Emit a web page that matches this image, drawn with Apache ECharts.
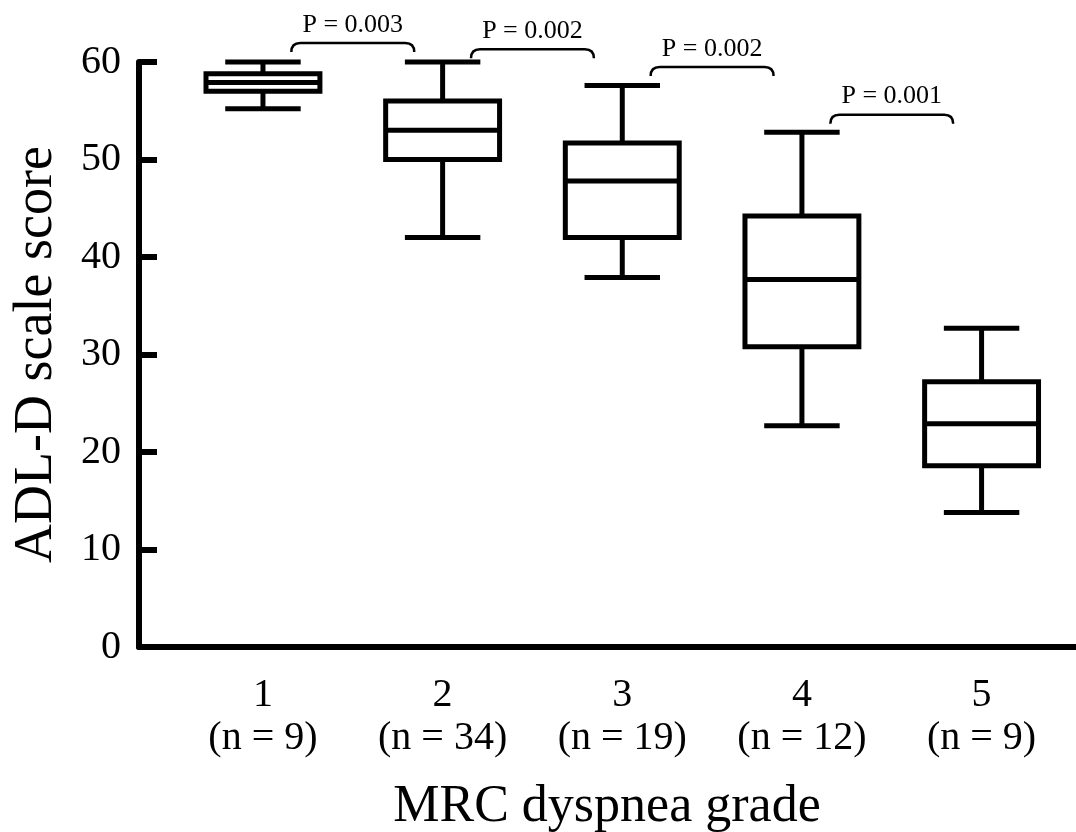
<!DOCTYPE html>
<html>
<head>
<meta charset="utf-8">
<script src="https://cdn.jsdelivr.net/npm/echarts@6/dist/echarts.min.js"></script>
<style>
  html, body { margin: 0; padding: 0; background: #fff; }
  #chart { width: 1076px; height: 832px; }
</style>
</head>
<body>
<div id="chart"></div>
<script>
// ---- data ----
const grades   = [1, 2, 3, 4, 5];
const nCounts  = [9, 34, 19, 12, 9];
const lows     = [55.2, 42.0, 37.9, 22.7, 13.8];
const q1s      = [57.0, 50.0, 42.0, 30.8, 18.6];
const medians  = [57.9, 53.0, 47.8, 37.7, 22.9];
const q3s      = [58.8, 56.0, 51.7, 44.2, 27.2];
const highs    = [60.0, 60.0, 57.6, 52.8, 32.7];
const yTicks   = [0, 10, 20, 30, 40, 50, 60];

// pairwise comparisons between adjacent grades
const pairFrom   = [1, 2, 3, 4];
const pairTo     = [2, 3, 4, 5];
const pLabels    = ['P = 0.003', 'P = 0.002', 'P = 0.002', 'P = 0.001'];
const bracketLvl = [61.95, 61.3, 59.5, 54.6];

// ---- build ----
const FONT = '"Liberation Serif", "DejaVu Serif", serif';
const BOX_HALF = 0.317;
const CAP_HALF = 0.21;
const BRACKET_HALF = 0.342;

const boxData = grades.map((g, i) => [g, lows[i], q1s[i], medians[i], q3s[i], highs[i]]);
const bracketData = pairFrom.map((a, i) => [(a + pairTo[i]) / 2, bracketLvl[i], pLabels[i]]);

const chart = echarts.init(document.getElementById('chart'), null, { renderer: 'canvas' });

chart.setOption({
  backgroundColor: '#ffffff',
  animation: false,
  grid: { left: 139, right: 1, top: 62, bottom: 185, containLabel: false, outerBoundsMode: 'none' },
  xAxis: {
    type: 'value',
    min: 0.31,
    max: 5.52,
    name: 'MRC dyspnea grade',
    nameLocation: 'middle',
    nameGap: 134,
    nameTextStyle: { fontFamily: FONT, fontSize: 52, color: '#000' },
    axisLine: { show: true, onZero: false, lineStyle: { color: '#000', width: 6 } },
    axisTick: { show: false },
    splitLine: { show: false },
    axisLabel: {
      customValues: grades,
      margin: 27,
      fontFamily: FONT,
      fontSize: 40,
      lineHeight: 43,
      color: '#000',
      formatter: function (v) {
        const i = grades.indexOf(Math.round(v));
        return grades[i] + '\n(n = ' + nCounts[i] + ')';
      }
    }
  },
  yAxis: {
    type: 'value',
    min: 0,
    max: 60,
    interval: 10,
    name: 'ADL-D scale score',
    nameLocation: 'middle',
    nameRotate: 90,
    nameGap: 75,
    nameTextStyle: { fontFamily: FONT, fontSize: 54, color: '#000' },
    axisLine: { show: true, lineStyle: { color: '#000', width: 6 } },
    axisTick: { show: true, inside: true, length: 18, lineStyle: { color: '#000', width: 6 } },
    splitLine: { show: false },
    axisLabel: {
      margin: 18,
      padding: [8, 0, 0, 0],
      fontFamily: FONT,
      fontSize: 40,
      color: '#000',
      formatter: function (v) { return yTicks.indexOf(v) >= 0 ? String(v) : ''; }
    }
  },
  series: [
    {
      type: 'custom',
      name: 'boxes',
      data: boxData,
      encode: { x: 0, y: [1, 2, 3, 4, 5] },
      renderItem: function (params, api) {
        const x = api.value(0);
        const pLow = api.coord([x, api.value(1)]);
        const pQ1 = api.coord([x, api.value(2)]);
        const pMed = api.coord([x, api.value(3)]);
        const pQ3 = api.coord([x, api.value(4)]);
        const pHigh = api.coord([x, api.value(5)]);
        const cx = pMed[0];
        const hb = api.size([BOX_HALF, 0])[0];
        const hc = api.size([CAP_HALF, 0])[0];
        const st = { stroke: '#000', lineWidth: 5, lineCap: 'butt' };
        return {
          type: 'group',
          children: [
            { type: 'line', shape: { x1: cx, y1: pLow[1], x2: cx, y2: pQ1[1] }, style: st },
            { type: 'line', shape: { x1: cx, y1: pQ3[1], x2: cx, y2: pHigh[1] }, style: st },
            { type: 'line', shape: { x1: cx - hc, y1: pLow[1], x2: cx + hc, y2: pLow[1] }, style: st },
            { type: 'line', shape: { x1: cx - hc, y1: pHigh[1], x2: cx + hc, y2: pHigh[1] }, style: st },
            { type: 'rect', shape: { x: cx - hb, y: pQ3[1], width: 2 * hb, height: pQ1[1] - pQ3[1] },
              style: { fill: '#fff', stroke: '#000', lineWidth: 5 } },
            { type: 'line', shape: { x1: cx - hb, y1: pMed[1], x2: cx + hb, y2: pMed[1] }, style: st }
          ]
        };
      }
    },
    {
      type: 'custom',
      name: 'brackets',
      data: bracketData,
      encode: { x: 0, y: 1 },
      renderItem: function (params, api) {
        const xc = api.value(0);
        const lvl = api.value(1);
        const label = bracketData[params.dataIndex][2];
        const pL = api.coord([xc - BRACKET_HALF, lvl]);
        const pR = api.coord([xc + BRACKET_HALF, lvl]);
        const y = pL[1];
        const d = 9;
        const path = 'M' + pL[0] + ' ' + (y + d) +
          ' Q' + pL[0] + ' ' + y + ' ' + (pL[0] + d) + ' ' + y +
          ' L' + (pR[0] - d) + ' ' + y +
          ' Q' + pR[0] + ' ' + y + ' ' + pR[0] + ' ' + (y + d);
        return {
          type: 'group',
          children: [
            { type: 'path', shape: { pathData: path },
              style: { fill: null, stroke: '#000', lineWidth: 2.5 } },
            { type: 'text',
              style: { text: label, x: (pL[0] + pR[0]) / 2, y: y - 5,
                       align: 'center', verticalAlign: 'bottom',
                       fontFamily: FONT, fontSize: 26, fill: '#000' } }
          ]
        };
      }
    }
  ]
});
</script>
</body>
</html>
